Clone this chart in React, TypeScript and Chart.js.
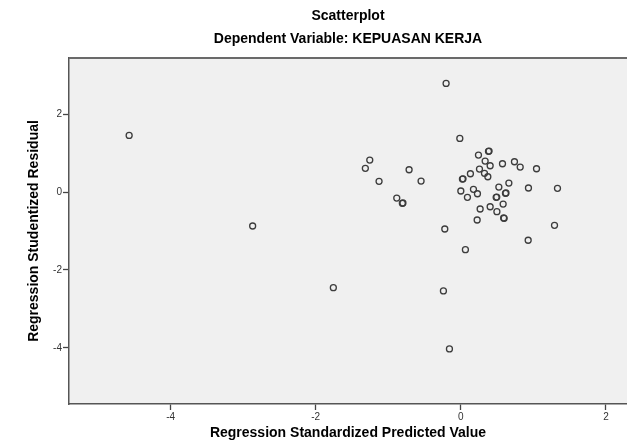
import React, { useEffect, useRef } from "react";
import { Chart, registerables } from "chart.js";

Chart.register(...registerables);

const chartTitle = "Scatterplot";
const chartSubtitle = "Dependent Variable: KEPUASAN KERJA";
const xAxisTitle = "Regression Standardized Predicted Value";
const yAxisTitle = "Regression Studentized Residual";

const xTickValues = [-4, -2, 0, 2];
const yTickValues = [-4, -2, 0, 2];

// Regression standardized predicted values
const predictedValues = [
  -0.203, -0.014, 0.243, 0.381, 0.389, 0.335, 0.404, 0.574, 0.739, 0.818,
  1.043, -0.713, -0.548, 0.257, 0.132, 0.326, 0.372, 0.022, 0.030, 0.0,
  0.174, 0.229, 0.091, 0.524, 0.662, 0.487, 0.495, 0.615, 0.622, 0.583,
  0.932, 1.332, 0.266, 0.404, 0.497, 0.597, 0.590, 0.225, 1.291, -0.221,
  0.928, 0.063, -0.806, -0.798, -1.255, -1.316, -1.127, -0.883, -2.869, -4.571,
  -1.757, -0.24, -0.157,
];

// Regression studentized residuals
const residualValues = [
  2.787, 1.377, 0.949, 1.044, 1.05, 0.795, 0.674, 0.726, 0.777, 0.641,
  0.597, 0.572, 0.282, 0.59, 0.469, 0.479, 0.392, 0.333, 0.34, 0.026,
  0.069, -0.044, -0.136, 0.128, 0.231, -0.136, -0.13, -0.033, -0.025, -0.308,
  0.103, 0.095, -0.436, -0.377, -0.505, -0.674, -0.665, -0.718, -0.854, -0.949,
  -1.238, -1.479, -0.29, -0.282, 0.821, 0.608, 0.274, -0.154, -0.872, 1.454,
  -2.454, -2.538, -4.026,
];

const FONT = "Arial, 'Liberation Sans', sans-serif";

const plotFrame = {
  id: "plotFrame",
  beforeDraw(chart: any) {
    const { ctx, chartArea } = chart;
    ctx.save();
    ctx.fillStyle = "#f0f0f0";
    ctx.fillRect(chartArea.left, chartArea.top, chartArea.right - chartArea.left, chartArea.bottom - chartArea.top);
    ctx.restore();
  },
  afterDraw(chart: any) {
    const { ctx, chartArea } = chart;
    ctx.save();
    ctx.strokeStyle = "#6a6a6a";
    ctx.lineWidth = 2;
    ctx.beginPath();
    ctx.moveTo(chartArea.left, chartArea.top);
    ctx.lineTo(chartArea.right, chartArea.top);
    ctx.stroke();
    ctx.restore();
  },
};

export default function App() {
  const canvasRef = useRef<HTMLCanvasElement | null>(null);

  useEffect(() => {
    document.body.style.margin = "0";
    const canvas = canvasRef.current;
    if (!canvas) return;
    const points = predictedValues.map((x, i) => ({ x, y: residualValues[i] }));
    const chart = new Chart(canvas, {
      type: "scatter",
      data: {
        datasets: [
          {
            data: points,
            pointStyle: "circle",
            pointRadius: 3,
            pointBorderWidth: 1.3,
            pointBorderColor: "#3c3c3c",
            pointBackgroundColor: "rgba(0,0,0,0)",
          },
        ],
      },
      options: {
        animation: false,
        responsive: false,
        maintainAspectRatio: false,
        layout: { autoPadding: false, padding: { top: 0, right: 0, bottom: 0, left: 0 } },
        plugins: {
          legend: { display: false },
          tooltip: { enabled: false },
          title: {
            display: true,
            text: chartTitle,
            fullSize: false,
            color: "#000",
            font: { family: FONT, size: 14, weight: "bold", lineHeight: 1.2 },
            padding: { top: 8, bottom: 4 },
          },
          subtitle: {
            display: true,
            text: chartSubtitle,
            fullSize: false,
            color: "#000",
            font: { family: FONT, size: 14, weight: "bold", lineHeight: 1.2 },
            padding: { top: 2, bottom: 10.4 },
          },
        },
        scales: {
          x: {
            type: "linear",
            min: -5.4,
            max: 2.29,
            afterBuildTicks: (axis: any) => {
              axis.ticks = xTickValues.map((v) => ({ value: v }));
            },
            afterFit: (axis: any) => {
              axis.height = 41;
              axis.paddingLeft = 0;
              axis.paddingRight = 0;
            },
            grid: {
              display: true,
              drawOnChartArea: false,
              drawTicks: true,
              tickLength: 6,
              tickWidth: 1.3,
              tickColor: "#444",
            },
            border: { display: true, color: "#555", width: 1.5 },
            ticks: {
              color: "#333",
              font: { family: FONT, size: 10 },
              padding: 1,
              maxRotation: 0,
              callback: (v: any) => String(v),
            },
            title: {
              display: true,
              text: xAxisTitle,
              color: "#000",
              font: { family: FONT, size: 14, weight: "bold", lineHeight: 1.2 },
              padding: { top: 3, bottom: 3 },
            },
          },
          y: {
            type: "linear",
            min: -5.44,
            max: 3.44,
            afterBuildTicks: (axis: any) => {
              axis.ticks = yTickValues.map((v) => ({ value: v }));
            },
            afterFit: (axis: any) => {
              axis.width = 69;
              axis.paddingTop = 0;
              axis.paddingBottom = 0;
            },
            grid: {
              display: true,
              drawOnChartArea: false,
              drawTicks: true,
              tickLength: 6,
              tickWidth: 1.3,
              tickColor: "#444",
            },
            border: { display: true, color: "#555", width: 1.5 },
            ticks: {
              color: "#333",
              font: { family: FONT, size: 10 },
              padding: 1,
              callback: (v: any) => String(v),
            },
            title: {
              display: true,
              text: yAxisTitle,
              color: "#000",
              font: { family: FONT, size: 14, weight: "bold", lineHeight: 1.2 },
              padding: { top: 26, bottom: 0 },
            },
          },
        },
      },
      plugins: [plotFrame],
    });
    return () => chart.destroy();
  }, []);

  return (
    <div style={{ width: 627, height: 445, background: "#fff" }}>
      <canvas ref={canvasRef} width={627} height={445} style={{ display: "block" }} />
    </div>
  );
}
